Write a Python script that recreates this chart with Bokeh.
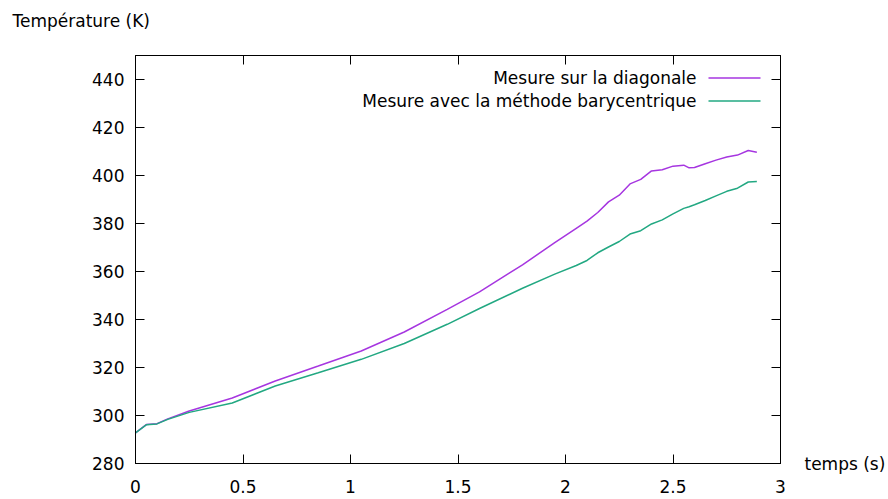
from bokeh.plotting import figure
from bokeh.models import Range1d, LinearAxis, FixedTicker, NumeralTickFormatter, Label, ColumnDataSource, Title
from bokeh.embed import file_html
from bokeh.resources import INLINE

# ---- data ----
time_s = [0.0, 0.05, 0.1, 0.15, 0.25, 0.45, 0.65, 0.85, 1.05, 1.25, 1.45, 1.6, 1.8, 1.95,
          2.05, 2.1, 2.15, 2.2, 2.25, 2.3, 2.35, 2.4, 2.45, 2.5, 2.55, 2.575, 2.6, 2.65,
          2.7, 2.75, 2.8, 2.85, 2.89]
temp_diagonale = [292.8, 296.2, 296.6, 298.6, 301.9, 307.3, 314.4, 320.6, 326.9, 334.8, 344.2,
                  351.5, 362.8, 372.0, 378.0, 381.0, 384.6, 389.0, 391.8, 396.5, 398.4, 401.9,
                  402.4, 403.9, 404.3, 403.2, 403.3, 404.9, 406.4, 407.7, 408.5, 410.4, 409.7]
temp_barycentre = [292.8, 296.1, 296.5, 298.4, 301.3, 305.2, 312.3, 317.8, 323.4, 330.0, 338.0,
                   344.6, 353.0, 358.9, 362.5, 364.6, 367.8, 370.2, 372.5, 375.6, 377.0, 379.8,
                   381.5, 384.0, 386.3, 387.0, 387.8, 389.6, 391.5, 393.4, 394.7, 397.3, 397.5]
x_ticks = [0, 0.5, 1, 1.5, 2, 2.5, 3]
y_ticks = [280, 300, 320, 340, 360, 380, 400, 420, 440]
series_labels = ["Mesure sur la diagonale", "Mesure avec la méthode barycentrique"]
x_title = "temps (s)"
y_title = "Température (K)"

# ---- styling / layout ----
FONT = "DejaVu Sans"
FS = "17px"
COLORS = ["#a636e0", "#22a882"]
W, H = 888, 499
L, R, T, B = 135, 108, 55, 36
X0, X1, Y0, Y1 = 0, 3, 280, 450

src = ColumnDataSource(dict(t=time_s, diag=temp_diagonale, bary=temp_barycentre))

p = figure(width=W, height=H, x_range=Range1d(X0, X1), y_range=Range1d(Y0, Y1),
           output_backend="svg", toolbar_location=None,
           min_border_left=L, min_border_right=R, min_border_top=T, min_border_bottom=B)
p.xgrid.visible = False
p.ygrid.visible = False
p.outline_line_color = "black"
p.outline_line_width = 1
p.background_fill_color = "white"
p.border_fill_color = "white"


def style_axis(ax, ticks, show_labels, standoff):
    ax.ticker = FixedTicker(ticks=ticks)
    ax.formatter = NumeralTickFormatter(format="0.[0]")
    ax.minor_tick_line_color = None
    ax.major_tick_in = 9
    ax.major_tick_out = 0
    ax.major_tick_line_color = "black"
    ax.major_tick_line_width = 1
    ax.axis_line_color = "black"
    ax.axis_line_width = 1
    ax.major_label_text_font = FONT
    if show_labels:
        ax.major_label_text_color = "black"
        ax.major_label_text_font_size = FS
        ax.major_label_standoff = standoff
    else:
        ax.major_label_text_color = None
        ax.major_label_text_font_size = "1px"
        ax.major_label_standoff = 0


style_axis(p.xaxis[0], x_ticks, True, 16)
style_axis(p.yaxis[0], y_ticks, True, 11)
top_ax = LinearAxis()
right_ax = LinearAxis()
style_axis(top_ax, x_ticks, False, 0)
style_axis(right_ax, y_ticks, False, 0)
p.add_layout(top_ax, "above")
p.add_layout(right_ax, "right")

# x-axis title shown gnuplot-style, to the right of the frame at axis level
right_ax.axis_label = x_title
right_ax.axis_label_text_font = FONT
right_ax.axis_label_text_font_size = FS
right_ax.axis_label_text_font_style = "normal"
right_ax.axis_label_text_color = "black"
right_ax.axis_label_standoff = 24
right_ax.axis_label_orientation = "horizontal"
right_ax.axis_label_align = "start"

p.line("t", "diag", source=src, line_color=COLORS[0], line_width=1.5)
p.line("t", "bary", source=src, line_color=COLORS[1], line_width=1.5)


# canvas pixel -> data helpers for annotations
def dx(px):
    return X0 + (px - L) / (W - L - R) * (X1 - X0)


def dy(py):
    return Y0 + (H - B - py) / (H - T - B) * (Y1 - Y0)


# gnuplot-style key: text right-aligned, sample line on the right
for i, (lab, col) in enumerate(zip(series_labels, COLORS)):
    yy = dy(77.5 + i * 23)
    p.add_layout(Label(x=dx(696), y=yy, text=lab, text_align="right", text_baseline="middle",
                       text_font=FONT, text_font_size=FS, text_color="black"))
    p.line([dx(708), dx(760)], [yy, yy], line_color=col, line_width=1.5)

title_kw = dict(text=y_title, align="left", offset=-123,
                text_font=FONT, text_font_size=FS, text_font_style="normal", text_color="black")
try:
    ttl = Title(standoff=0, padding=dict(left=0, right=0, top=0, bottom=25), **title_kw)
except Exception:
    ttl = Title(standoff=34, **title_kw)
p.add_layout(ttl, "above")

open("out.html", "w").write(file_html(p, INLINE))
